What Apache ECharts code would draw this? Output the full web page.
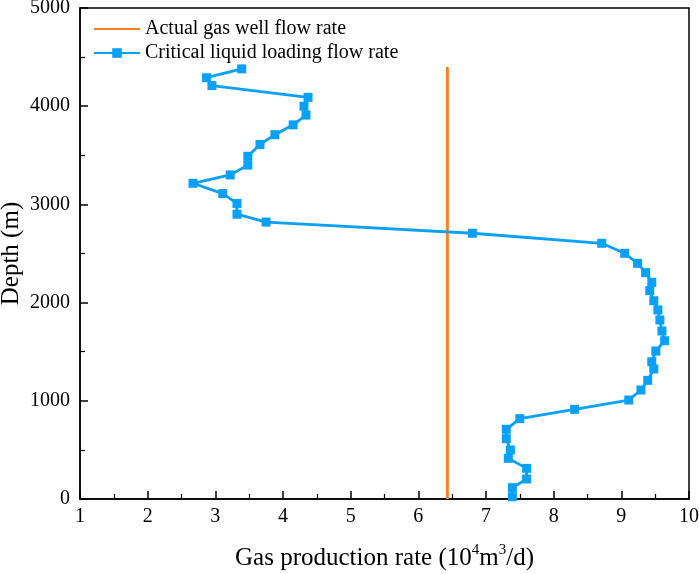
<!DOCTYPE html>
<html><head><meta charset="utf-8">
<script src="https://cdn.jsdelivr.net/npm/echarts@6/dist/echarts.min.js"></script>
<style>html,body{margin:0;padding:0;background:#fff}#c{width:699px;height:574px}</style>
</head><body><div id="c"></div>
<script>
var depth = [4380,4290,4210,4090,4000,3910,3810,3710,3610,3490,3400,3300,3215,3110,3010,2900,2820,2706,2604,2502,2400,2305,2207,2121,2019,1925,1823,1711,1612,1507,1398,1324,1208,1110,1008,913,818,710,614,499,414,312,204,115,23];
var criticalRate = [3.39,2.87,2.95,4.37,4.31,4.34,4.15,3.88,3.66,3.48,3.48,3.22,2.67,3.11,3.32,3.32,3.75,6.80,8.71,9.05,9.24,9.36,9.45,9.42,9.48,9.54,9.57,9.60,9.64,9.51,9.45,9.48,9.39,9.29,9.11,8.31,7.50,7.30,7.30,7.36,7.33,7.60,7.60,7.39,7.39];
var actualRate = [6.43,6.43];
var actualDepth = [0,4400];
var xTicks = [1,2,3,4,5,6,7,8,9,10];
var seriesNames = ['Actual gas well flow rate','Critical liquid loading flow rate'];

var font = 'Liberation Serif';
var chart = echarts.init(document.getElementById('c'));
var zip = function(xs, ys){ return xs.map(function(v,i){ return [v, ys[i]]; }); };
chart.setOption({
  animation:false,
  textStyle:{fontFamily:font, color:'#000'},
  grid:{left:80,right:10,top:8,bottom:75,containLabel:false,outerBoundsMode:'none',show:true,borderColor:'#000',borderWidth:1.5,backgroundColor:'transparent'},
  legend:{
    orient:'vertical', left:88, top:14, itemWidth:46, itemHeight:12, itemGap:4,
    textStyle:{fontFamily:font, fontSize:20, color:'#000'},
    data:[{name:seriesNames[0], itemStyle:{opacity:0}}, {name:seriesNames[1]}]
  },
  xAxis:{
    type:'value', min:xTicks[0], max:xTicks[xTicks.length-1], interval:1,
    name:'{a|Gas production rate (10}{s|4}{a|m}{s|3}{a|/d)}',
    nameLocation:'middle', nameGap:44, nameMoveOverlap:false,
    nameTextStyle:{rich:{
      a:{fontFamily:font,fontSize:25,color:'#000',lineHeight:30},
      s:{fontFamily:font,fontSize:15,color:'#000',lineHeight:18,verticalAlign:'top'}
    }},
    axisLine:{lineStyle:{color:'#000',width:1.5}},
    axisTick:{inside:true,length:8,lineStyle:{color:'#000',width:1.5}},
    minorTick:{show:true,splitNumber:2,length:5,lineStyle:{color:'#000',width:1.2}},
    splitLine:{show:false},
    axisLabel:{fontFamily:font,fontSize:20,color:'#000',margin:8}
  },
  yAxis:{
    type:'value', min:0, max:5000, interval:1000,
    name:'Depth (m)', nameLocation:'middle', nameGap:56, nameMoveOverlap:false,
    nameTextStyle:{fontFamily:font,fontSize:25,color:'#000'},
    axisLine:{show:true,lineStyle:{color:'#000',width:1.5}},
    axisTick:{show:true,inside:true,length:8,lineStyle:{color:'#000',width:1.5}},
    minorTick:{show:true,splitNumber:2,length:5,lineStyle:{color:'#000',width:1.2}},
    splitLine:{show:false},
    axisLabel:{fontFamily:font,fontSize:20,color:'#000',margin:10,formatter:function(v){return String(v);}}
  },
  series:[
    {name:seriesNames[0],type:'line',data:zip(actualRate,actualDepth),symbol:'none',
     lineStyle:{color:'#FA7F1E',width:2.8},itemStyle:{color:'#FA7F1E'}},
    {name:seriesNames[1],type:'line',data:zip(criticalRate,depth),symbol:'rect',symbolSize:9,
     lineStyle:{color:'#0AA0F5',width:2.8},itemStyle:{color:'#0AA0F5'}}
  ]
});
</script></body></html>
